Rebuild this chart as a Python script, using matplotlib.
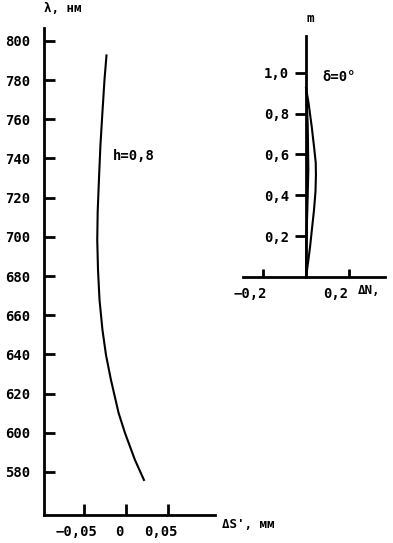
import matplotlib
matplotlib.use("Agg")
import matplotlib.pyplot as plt
from matplotlib.transforms import ScaledTranslation

# main curve h=0,8: delta S' (mm) vs wavelength (nm)
ds_vals = [-0.0232, -0.0256, -0.0280, -0.0304, -0.0321, -0.0337, -0.0342, -0.0333,
           -0.0315, -0.0280, -0.0238, -0.0179, -0.0088, -0.0012, 0.0107, 0.0214]
lam_vals = [792.6, 780.1, 763.8, 746.9, 730.1, 712.7, 698.4, 683.1,
            667.8, 652.5, 639.7, 627.0, 610.1, 599.9, 586.1, 575.9]
lam_ticks = [580, 600, 620, 640, 660, 680, 700, 720, 740, 760, 780, 800]
ds_ticks = [-0.05, 0, 0.05]
ds_labels = ["−0,05", "0", "0,05"]

# inset (delta = 0 deg): loop of delta N vs m
dn_right = [0.0, 0.012, 0.0265, 0.038, 0.045, 0.046, 0.044, 0.037, 0.028, 0.0186, 0.008, 0.0]
m_right = [0.926, 0.85, 0.735, 0.63, 0.56, 0.5, 0.42, 0.328, 0.24, 0.147, 0.06, 0.0]
dn_left = [0.0, 0.004, 0.008, 0.0107, 0.006, 0.002, 0.0, 0.0]
m_left = [0.926, 0.85, 0.735, 0.525, 0.328, 0.2, 0.147, 0.0]
m_ticks = [0.2, 0.4, 0.6, 0.8, 1.0]
m_labels = ["0,2", "0,4", "0,6", "0,8", "1,0"]
dn_ticks = [-0.2, 0.2]
dn_labels = ["−0,2", "0,2"]

W, H = 393, 543
plt.rcParams["font.family"] = "DejaVu Sans Mono"
plt.rcParams["font.weight"] = "bold"

fig = plt.figure(figsize=(W / 100, H / 100), dpi=100)

def box(l, r, t, b):
    return [l / W, 1 - b / H, (r - l) / W, (b - t) / H]

# ---- main plot ----
ax = fig.add_axes(box(44, 215, 28, 515))
ax.plot(ds_vals, lam_vals, color="k", lw=1.5)
ax.set_xlim(-0.0976, 0.106)
ax.set_ylim(558.0, 806.6)
for s in ["top", "right"]:
    ax.spines[s].set_visible(False)
for s in ["left", "bottom"]:
    ax.spines[s].set_linewidth(2)
ax.set_yticks(lam_ticks)
ax.set_yticklabels([str(v) for v in lam_ticks])
ax.set_xticks(ds_ticks)
ax.set_xticklabels(ds_labels)
ax.tick_params(axis="y", direction="in", length=8, width=2, labelsize=10, pad=10)
ax.tick_params(axis="x", direction="in", length=8, width=2, labelsize=10, pad=7)
for lbl in ax.get_xticklabels():
    lbl.set_transform(lbl.get_transform() + ScaledTranslation(-0.07, 0, fig.dpi_scale_trans))
ax.text(-0.0155, 741.4, "h=0,8", ha="left", va="center", fontsize=10)

fig.text(44 / W, 1 - 8 / H, "λ, нм", ha="left", va="center", fontsize=9)
fig.text(222 / W, 1 - 525 / H, "ΔS', мм", ha="left", va="center", fontsize=9)

# ---- inset ----
ax2 = fig.add_axes(box(243, 385, 36, 277))
ax2.plot(dn_right, m_right, color="k", lw=1.5)
ax2.plot(dn_left, m_left, color="k", lw=1.5)
ax2.set_xlim(-0.293, 0.367)
ax2.set_ylim(0, 1.18)
ax2.patch.set_alpha(0)
for s in ["top", "right"]:
    ax2.spines[s].set_visible(False)
ax2.spines["left"].set_position(("data", 0))
for s in ["left", "bottom"]:
    ax2.spines[s].set_linewidth(2)
ax2.set_yticks(m_ticks)
ax2.set_yticklabels(m_labels)
ax2.set_xticks(dn_ticks)
ax2.set_xticklabels(dn_labels)
ax2.tick_params(axis="y", direction="out", length=8, width=2, labelsize=10, pad=4)
ax2.tick_params(axis="x", direction="in", length=6, width=2, labelsize=10, pad=7)
for lbl in ax2.get_xticklabels():
    lbl.set_transform(lbl.get_transform() + ScaledTranslation(-0.13, 0, fig.dpi_scale_trans))
ax2.text(0.074, 0.98, "δ=0°", ha="left", va="center", fontsize=10)
ax2.text(0.02, 1.265, "m", ha="center", va="center", fontsize=9, clip_on=False)
fig.text(358 / W, 1 - 291 / H, "ΔN,", ha="left", va="center", fontsize=9)

fig.savefig("out.png", dpi=100)
